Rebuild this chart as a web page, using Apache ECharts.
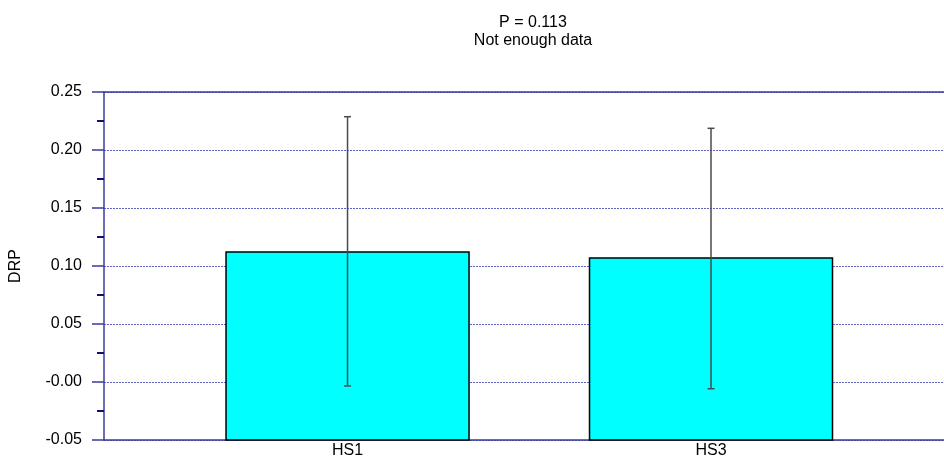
<!DOCTYPE html>
<html>
<head>
<meta charset="utf-8">
<script src="https://cdn.jsdelivr.net/npm/echarts@6/dist/echarts.min.js"></script>
<style>
  html, body { margin: 0; padding: 0; background: #fff; }
  #chart { width: 944px; height: 459px; }
</style>
</head>
<body>
<div id="chart"></div>
<script>
const categories = ['HS1', 'HS3'];
const positions = [1, 2];
const means = [0.112, 0.107];
const errLow = [-0.0034, -0.0058];
const errHigh = [0.2287, 0.2187];
const yTickLabels = ['-0.05', '-0.00', '0.05', '0.10', '0.15', '0.20', '0.25'];
const yMin = -0.05;
const yMax = 0.25;
const yStep = 0.05;

const axisColor = '#3b3b9c';
const font = 'Liberation Sans, Arial, sans-serif';

const barData = positions.map((x, i) => [x, means[i]]);
const errData = positions.map((x, i) => [x, errLow[i], errHigh[i]]);

const chart = echarts.init(document.getElementById('chart'));

const option = {
  animation: false,
  backgroundColor: '#fff',
  title: {
    text: 'P = 0.113\nNot enough data',
    left: 528,
    top: 9,
    textAlign: 'center',
    textStyle: {
      fontFamily: font,
      fontSize: 16,
      fontWeight: 'normal',
      color: '#000',
      lineHeight: 18,
    },
  },
  grid: {
    left: 104,
    right: 0,
    top: 92,
    bottom: 19,
  },
  xAxis: [
    {
      type: 'value',
      min: 0.33,
      max: 2.641,
      axisLine: { show: true, onZero: false, lineStyle: { color: axisColor, width: 1.5 } },
      axisTick: { show: false },
      splitLine: { show: false },
      axisLabel: {
        customValues: positions,
        formatter: (v) => categories[positions.indexOf(v)],
        margin: 3,
        fontFamily: font,
        fontSize: 16,
        color: '#000',
      },
    },
    {
      type: 'value',
      position: 'top',
      min: 0.33,
      max: 2.641,
      axisLine: { show: true, onZero: false, lineStyle: { color: axisColor, width: 1.5 } },
      axisTick: { show: false },
      axisLabel: { show: false },
      splitLine: { show: false },
    },
  ],
  yAxis: {
    type: 'value',
    min: yMin,
    max: yMax,
    interval: yStep,
    name: 'DRP',
    nameLocation: 'middle',
    nameGap: 80,
    nameTextStyle: { fontFamily: font, fontSize: 16, color: '#000' },
    axisLine: { show: true, lineStyle: { color: axisColor, width: 1.5 } },
    axisTick: { show: true, length: 12, lineStyle: { color: axisColor, width: 1.5 } },
    minorTick: { show: true, splitNumber: 2, length: 7, lineStyle: { color: '#10107a', width: 2 } },
    splitLine: {
      show: true,
      lineStyle: { color: '#6262c4', type: [2, 1], width: 1 },
    },
    axisLabel: {
      margin: 22,
      fontFamily: font,
      fontSize: 16,
      color: '#000',
      formatter: (v) => yTickLabels[Math.round((v - yMin) / yStep)],
    },
  },
  series: [
    {
      type: 'custom',
      name: 'bars',
      data: barData,
      clip: false,
      renderItem: (params, api) => {
        const x = api.value(0);
        const top = api.coord([x, api.value(1)]);
        const base = api.coord([x, yMin]);
        const w = 243;
        return {
          type: 'rect',
          shape: { x: top[0] - w / 2, y: top[1], width: w, height: base[1] - top[1] },
          style: { fill: '#00ffff', stroke: '#000', lineWidth: 1.5 },
        };
      },
      z: 3,
    },
    {
      type: 'custom',
      name: 'errors',
      data: errData,
      renderItem: (params, api) => {
        const x = api.value(0);
        const lo = api.coord([x, api.value(1)]);
        const hi = api.coord([x, api.value(2)]);
        const cap = 3.5;
        const style = { stroke: '#4a4a4a', lineWidth: 1.5 };
        return {
          type: 'group',
          children: [
            { type: 'line', shape: { x1: lo[0], y1: lo[1], x2: hi[0], y2: hi[1] }, style },
            { type: 'line', shape: { x1: hi[0] - cap, y1: hi[1], x2: hi[0] + cap, y2: hi[1] }, style },
            { type: 'line', shape: { x1: lo[0] - cap, y1: lo[1], x2: lo[0] + cap, y2: lo[1] }, style },
          ],
        };
      },
      z: 4,
    },
  ],
};

chart.setOption(option);
</script>
</body>
</html>
